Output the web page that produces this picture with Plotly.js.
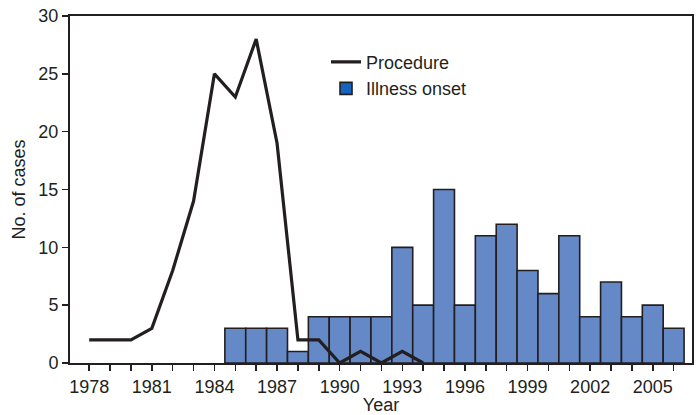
<!DOCTYPE html>
<html>
<head>
<meta charset="utf-8">
<script src="https://cdn.plot.ly/plotly-3.0.1.min.js"></script>
<style>
  html, body { margin: 0; padding: 0; background: #fff; }
  #chart { width: 699px; height: 415px; }
</style>
</head>
<body>
<div id="chart"></div>
<script>
// Illness onset (bars)
const onsetYears = [1985, 1986, 1987, 1988, 1989, 1990, 1991, 1992, 1993, 1994, 1995,
                    1996, 1997, 1998, 1999, 2000, 2001, 2002, 2003, 2004, 2005, 2006];
const onsetCases = [3, 3, 3, 1, 4, 4, 4, 4, 10, 5, 15,
                    5, 11, 12, 8, 6, 11, 4, 7, 4, 5, 3];

// Procedure (line)
const procYears = [1978, 1979, 1980, 1981, 1982, 1983, 1984, 1985, 1986, 1987,
                   1988, 1989, 1990, 1991, 1992, 1993, 1994];
const procCases = [2, 2, 2, 3, 8, 14, 25, 23, 28, 19,
                   2, 2, 0, 1, 0, 1, 0];

const seriesNames = ["Procedure", "Illness onset"];
const xTitle = "Year";
const yTitle = "No. of cases";

const ink = "#231F20";
const font = "Liberation Sans, Arial, Helvetica, sans-serif";
const fs = 18;

const traces = [
  {
    type: "bar",
    x: onsetYears,
    y: onsetCases,
    width: 1,
    marker: { color: "#6489C6", line: { color: ink, width: 1.6 } },
    showlegend: false,
    hoverinfo: "x+y"
  },
  {
    type: "scatter",
    mode: "lines",
    x: procYears,
    y: procCases,
    name: seriesNames[0],
    line: { color: ink, width: 3.2 }
  },
  {
    type: "bar",
    x: [null],
    y: [null],
    name: seriesNames[1],
    marker: { color: "#1565C0", line: { color: ink, width: 1.6 } }
  }
];

const layout = {
  width: 699,
  height: 415,
  margin: { l: 70, r: 7, t: 16, b: 52 },
  paper_bgcolor: "#fff",
  plot_bgcolor: "#fff",
  font: { family: font, size: fs, color: ink },
  bargap: 0,
  showlegend: true,
  legend: {
    x: 0.4116, xanchor: "left",
    y: 0.92, yanchor: "top",
    bgcolor: "rgba(0,0,0,0)",
    font: { family: font, size: fs, color: ink },
    tracegroupgap: 0
  },
  xaxis: {
    range: [1977.08, 2006.88],
    tick0: 1978,
    dtick: 3,
    ticks: "outside",
    ticklen: 6,
    tickwidth: 1.5,
    tickcolor: ink,
    minor: { dtick: 1, tick0: 1978, ticks: "outside", ticklen: 6, tickwidth: 1.5, tickcolor: ink, showgrid: false },
    showline: true,
    linecolor: ink,
    linewidth: 2,
    mirror: true,
    showgrid: false,
    zeroline: false,
    tickfont: { family: font, size: fs, color: ink },
    title: { text: xTitle, font: { family: font, size: fs, color: ink }, standoff: 2 },
    fixedrange: true
  },
  yaxis: {
    range: [0, 30],
    dtick: 5,
    ticks: "outside",
    ticklen: 6,
    tickwidth: 1.5,
    tickcolor: ink,
    showline: true,
    linecolor: ink,
    linewidth: 2,
    mirror: true,
    showgrid: false,
    zeroline: false,
    tickfont: { family: font, size: fs, color: ink },
    title: { text: yTitle, font: { family: font, size: fs, color: ink }, standoff: 8 },
    fixedrange: true
  }
};

Plotly.newPlot("chart", traces, layout, { displayModeBar: false, staticPlot: true });
</script>
</body>
</html>
